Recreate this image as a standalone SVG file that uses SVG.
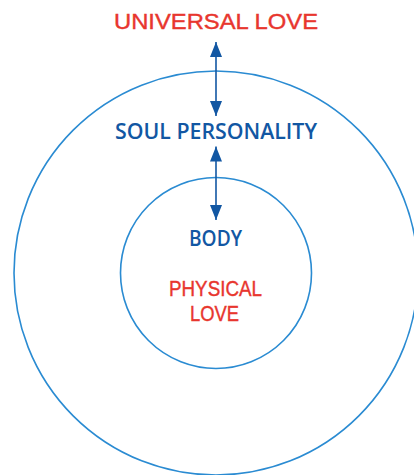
<svg xmlns="http://www.w3.org/2000/svg" width="414" height="475" viewBox="0 0 414 475">
<defs>
<style>
.ring{fill:none;stroke:#2a8bd2;stroke-width:1.6}
text{text-anchor:middle}
.red{fill:#e8362e;stroke:#e8362e;stroke-width:0.4;font-family:"Liberation Sans",Arial,sans-serif;font-size:22px}
.blue{fill:#1257a3;font-family:"Open Sans","Liberation Sans",Arial,sans-serif;font-weight:600;font-size:21.5px}
.conn line{stroke:#1257a3;stroke-width:1.6}
</style>
<marker id="ah" viewBox="0 0 15 12" refX="15" refY="6" markerWidth="15" markerHeight="12" markerUnits="userSpaceOnUse" orient="auto-start-reverse">
<path d="M0,0 L15,6 L0,12 Z" fill="#1257a3"/>
</marker>
</defs>
<rect width="414" height="475" fill="#ffffff"/>
<g id="outer"><circle class="ring" cx="216" cy="273" r="202"/></g>
<g id="inner"><circle class="ring" cx="216" cy="273" r="95.5"/></g>
<g id="universal-love"><text class="red" x="216" y="29" textLength="204" lengthAdjust="spacingAndGlyphs">UNIVERSAL LOVE</text></g>
<g id="soul-personality"><text class="blue" x="216" y="139" textLength="202" lengthAdjust="spacingAndGlyphs">SOUL PERSONALITY</text></g>
<g id="body"><text class="blue" x="215.5" y="245.5" textLength="53" lengthAdjust="spacingAndGlyphs">BODY</text></g>
<g id="physical-love"><text class="red" x="215.5" y="295.5" textLength="93" lengthAdjust="spacingAndGlyphs">PHYSICAL</text><text class="red" x="214.5" y="320.5" textLength="49" lengthAdjust="spacingAndGlyphs">LOVE</text></g>
<g class="conn" id="connectors">
<line x1="216" y1="42" x2="216" y2="116" marker-start="url(#ah)" marker-end="url(#ah)"/>
<line x1="216" y1="146.5" x2="216" y2="220" marker-start="url(#ah)" marker-end="url(#ah)"/>
</g>
</svg>
